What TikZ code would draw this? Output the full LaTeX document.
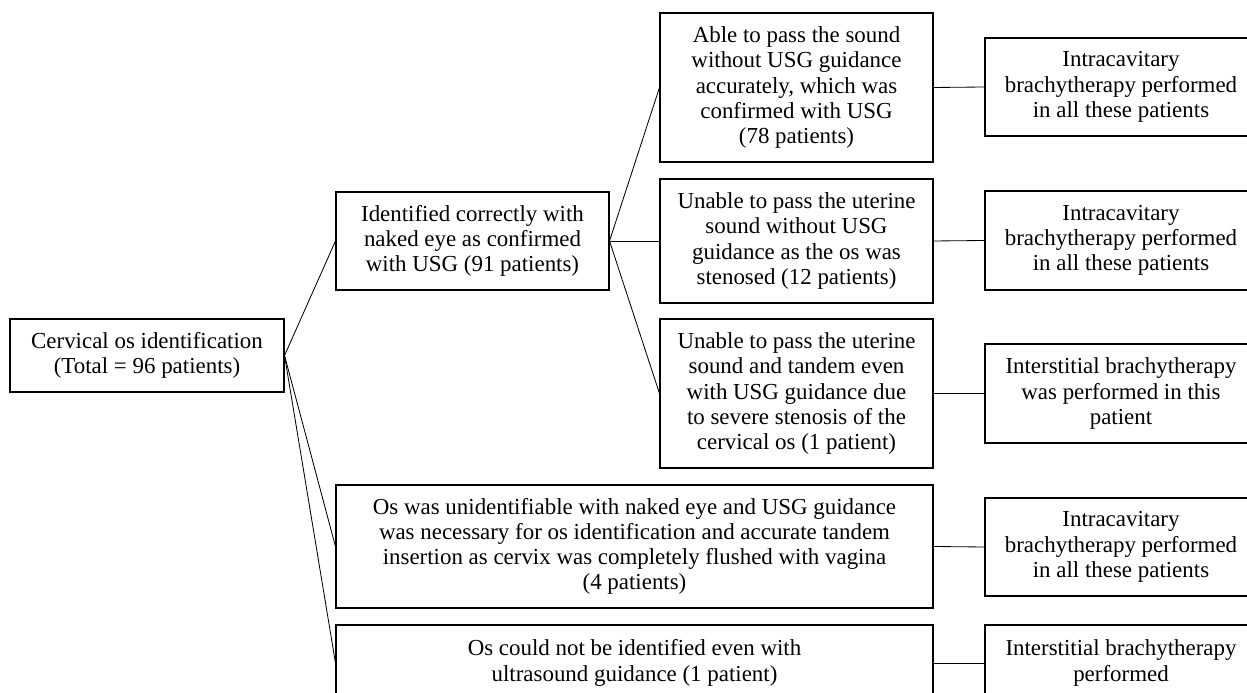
\documentclass[tikz,border=0pt]{standalone}
\usepackage{fontspec}
\setmainfont{Liberation Serif}
\usepackage{xcolor}
\usepackage{tikz}
\usetikzlibrary{positioning,shapes}

\newcommand{\pxu}{0.48pt}

\begin{document}
\begin{tikzpicture}[
            x=\pxu, y=-\pxu,
            % boxsize={width}{height} in pixels of the original sketch
            boxsize/.style 2 args={minimum width=#1*\pxu, minimum height=#2*\pxu},
            auto
        ]
            \useasboundingbox (0,0) rectangle (1247,693);
            \begin{scope}[
                every node/.style={rectangle, line width=0.5pt, draw, align=center, inner sep=2pt,
                                   font=\fontsize{11}{12.1}\selectfont}
            ]
                % Stages
                \node[boxsize={274}{73}]  (root)     at ( 147, 355.5) {Cervical os identification\\(Total = 96 patients)};
                \node[boxsize={273}{98}]  (ident)    at ( 472.5, 241) {Identified correctly with\\naked eye as confirmed\\with USG (91 patients)};
                \node[boxsize={273}{149}] (able)     at ( 796.5, 87.5) {Able to pass the sound\\without USG guidance\\accurately, which was\\confirmed with USG\\(78 patients)};
                \node[boxsize={273}{124}] (stenosed) at ( 796.5, 241) {Unable to pass the uterine\\sound without USG\\guidance as the os was\\stenosed (12 patients)};
                \node[boxsize={273}{149}] (severe)   at ( 796.5, 393.5) {Unable to pass the uterine\\sound and tandem even\\with USG guidance due\\to severe stenosis of the\\cervical os (1 patient)};
                \node[boxsize={597}{123}] (flush)    at ( 634.5, 546.5) {Os was unidentifiable with naked eye and USG guidance\\was necessary for os identification and accurate tandem\\insertion as cervix was completely flushed with vagina\\(4 patients)};
                \node[boxsize={597}{76}]  (notid)    at ( 634.5, 663) {Os could not be identified even with\\ultrasound guidance (1 patient)};
                % Outcomes
                \node[boxsize={272}{98}]  (out1)     at (1121, 87) {Intracavitary\\brachytherapy performed\\in all these patients};
                \node[boxsize={272}{99}]  (out2)     at (1121, 240.5) {Intracavitary\\brachytherapy performed\\in all these patients};
                \node[boxsize={272}{99}]  (out3)     at (1121, 393.5) {Interstitial brachytherapy\\was performed in this\\patient};
                \node[boxsize={272}{98}]  (out4)     at (1121, 547) {Intracavitary\\brachytherapy performed\\in all these patients};
                \node[boxsize={272}{76}]  (out5)     at (1121, 663) {Interstitial brachytherapy\\performed};
                % Edges
                \draw[-] (root.east) -- (ident.west);      % naked eye
                \draw[-] (root.east) -- (flush.west);      % USG needed
                \draw[-] (root.east) -- (notid.west);      % not found
                \draw[-] (ident.east) -- (able.west);      % 78
                \draw[-] (ident.east) -- (stenosed.west);  % 12
                \draw[-] (ident.east) -- (severe.west);    % 1
                \draw[-] (able.east) -- (out1.west);
                \draw[-] (stenosed.east) -- (out2.west);
                \draw[-] (severe.east) -- (out3.west);
                \draw[-] (flush.east) -- (out4.west);
                \draw[-] (notid.east) -- (out5.west);
            \end{scope}
        \end{tikzpicture}
\end{document}
